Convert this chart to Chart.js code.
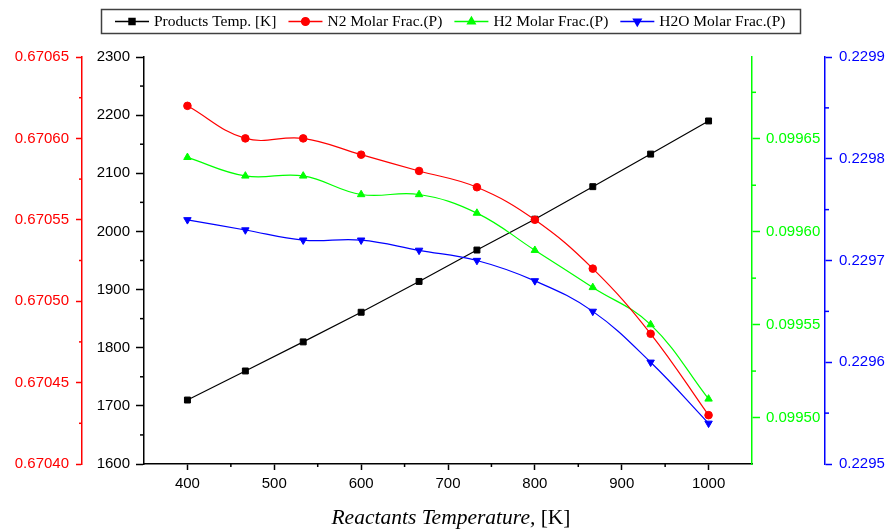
<!DOCTYPE html>
<html>
<head>
<meta charset="utf-8">
<script src="https://cdn.jsdelivr.net/npm/chart.js@4.4.1/dist/chart.umd.min.js"></script>
<style>
  body { margin: 0; background: #fff; }
  #wrap { width: 887px; height: 529px; }
</style>
</head>
<body>
<div id="wrap"><canvas id="chart" width="887" height="529"></canvas></div>
<script>
// reactant inlet temperatures [K]
const reactantTemps = [400, 466.7, 533.3, 600, 666.7, 733.3, 800, 866.7, 933.3, 1000];

// results per case
const productsTemp = [1710, 1760, 1810, 1861, 1914, 1968, 2021, 2077, 2133, 2190];
const n2Frac = [0.67062, 0.67060, 0.67060, 0.67059, 0.67058, 0.67057, 0.67055, 0.67052, 0.67048, 0.67043];
const h2Frac = [0.09964, 0.09963, 0.09963, 0.09962, 0.09962, 0.09961, 0.09959, 0.09957, 0.09955, 0.09951];
const h2oFrac = [0.22974, 0.22973, 0.22972, 0.22972, 0.22971, 0.22970, 0.22968, 0.22965, 0.22960, 0.22954];

const seriesNames = ['Products Temp. [K]', 'N2 Molar Frac.(P)', 'H2 Molar Frac.(P)', 'H2O Molar Frac.(P)'];

// axis ticks (major labelled, minor unlabelled)
const xTicks = [400, 500, 600, 700, 800, 900, 1000];
const xMinor = [450, 550, 650, 750, 850, 950];
const tempTicks = [1600, 1700, 1800, 1900, 2000, 2100, 2200, 2300];
const tempMinor = [1650, 1750, 1850, 1950, 2050, 2150, 2250];
const n2Ticks = [0.67040, 0.67045, 0.67050, 0.67055, 0.67060, 0.67065];
const n2Minor = [0.670425, 0.670475, 0.670525, 0.670575, 0.670625];
const h2Ticks = [0.09950, 0.09955, 0.09960, 0.09965];
const h2Minor = [0.099525, 0.099575, 0.099625, 0.099675];
const h2oTicks = [0.2295, 0.2296, 0.2297, 0.2298, 0.2299];
const h2oMinor = [0.22955, 0.22965, 0.22975, 0.22985];

const RED = '#ff0000', GREEN = '#00ff00', BLUE = '#0000ff', BLACK = '#000000';

function points(ys) {
  return reactantTemps.map((x, i) => ({ x: x, y: ys[i] }));
}

function fixTicks(list) {
  return function (scale) { scale.ticks = list.map(v => ({ value: v })); };
}

function yAxis(pos, color, min, max, ticks, digits, width, tickLen, pad, weight) {
  return {
    type: 'linear',
    position: pos,
    weight: weight,
    min: min,
    max: max,
    afterBuildTicks: fixTicks(ticks),
    afterFit: function (scale) { scale.width = width; },
    border: { display: true, color: color, width: 1.5 },
    grid: { drawOnChartArea: false, drawTicks: true, tickLength: tickLen, tickColor: color, tickWidth: 1.5 },
    ticks: {
      color: color,
      padding: pad,
      font: { family: "'Liberation Sans', Arial, sans-serif", size: 15 },
      callback: v => v.toFixed(digits)
    }
  };
}

const minorTicks = {
  id: 'minorTicks',
  afterDraw(chart) {
    const ctx = chart.ctx;
    const sets = [
      ['x', xMinor, BLACK, 3],
      ['yTemp', tempMinor, BLACK, 4],
      ['yN2', n2Minor, RED, 3],
      ['yH2', h2Minor, GREEN, 4],
      ['yH2O', h2oMinor, BLUE, 4]
    ];
    ctx.save();
    ctx.lineWidth = 1.5;
    sets.forEach(([id, vals, color, len]) => {
      const s = chart.scales[id];
      ctx.strokeStyle = color;
      vals.forEach(v => {
        const p = s.getPixelForValue(v);
        ctx.beginPath();
        if (s.position === 'bottom') {
          ctx.moveTo(p, s.top); ctx.lineTo(p, s.top + len);
        } else if (s.position === 'left') {
          ctx.moveTo(s.right - len, p); ctx.lineTo(s.right, p);
        } else {
          ctx.moveTo(s.left, p); ctx.lineTo(s.left + len, p);
        }
        ctx.stroke();
      });
    });
    ctx.restore();
  }
};

// x-axis title: italic words followed by an upright unit
const xTitle = {
  id: 'xTitle',
  afterDraw(chart) {
    const ctx = chart.ctx;
    const area = chart.chartArea;
    const a = 'Reactants Temperature,';
    const b = ' [K]';
    const italic = "italic 21.5px 'Liberation Serif', 'Times New Roman', serif";
    const upright = "21.5px 'Liberation Serif', 'Times New Roman', serif";
    ctx.save();
    ctx.fillStyle = BLACK;
    ctx.textBaseline = 'alphabetic';
    ctx.font = italic;
    const wa = ctx.measureText(a).width;
    ctx.font = upright;
    const wb = ctx.measureText(b).width;
    const x = (area.left + area.right) / 2 - (wa + wb) / 2 + 3;
    const y = 524;
    ctx.font = italic;
    ctx.fillText(a, x, y);
    ctx.font = upright;
    ctx.fillText(b, x + wa, y);
    ctx.restore();
  }
};

// boxed legend with line + marker samples
const boxLegend = {
  id: 'boxLegend',
  afterDraw(chart) {
    const ctx = chart.ctx;
    ctx.save();
    ctx.strokeStyle = '#404040';
    ctx.lineWidth = 1.5;
    ctx.strokeRect(101.5, 9.5, 699, 24);
    ctx.font = "15.5px 'Liberation Serif', 'Times New Roman', serif";
    ctx.textBaseline = 'middle';
    const cy = 21.5;
    let x = 115;
    chart.data.datasets.forEach(ds => {
      ctx.strokeStyle = ds.borderColor;
      ctx.lineWidth = 1.5;
      ctx.beginPath();
      ctx.moveTo(x, cy); ctx.lineTo(x + 34, cy);
      ctx.stroke();
      Chart.helpers.drawPoint(ctx, {
        pointStyle: ds.pointStyle,
        radius: ds.pointRadius,
        rotation: ds.pointRotation || 0,
        borderWidth: 1
      }, x + 17, cy);
      ctx.fillStyle = ds.borderColor;
      ctx.fill();
      ctx.fillStyle = BLACK;
      ctx.fillText(ds.label, x + 39, cy);
      x += 39 + ctx.measureText(ds.label).width + 12;
    });
    ctx.restore();
  }
};

function series(label, ys, color, axis, style, radius, rotation, tension, order) {
  return {
    label: label,
    data: points(ys),
    yAxisID: axis,
    borderColor: color,
    backgroundColor: color,
    borderWidth: 1.2,
    pointStyle: style,
    pointRadius: radius,
    pointRotation: rotation,
    pointBackgroundColor: color,
    pointBorderColor: color,
    pointBorderWidth: 1,
    tension: tension,
    order: order
  };
}

new Chart(document.getElementById('chart'), {
  type: 'line',
  data: {
    datasets: [
      series(seriesNames[0], productsTemp, BLACK, 'yTemp', 'rect', 4.2, 0, 0, 4),
      series(seriesNames[1], n2Frac, RED, 'yN2', 'circle', 3.8, 0, 0.4, 1),
      series(seriesNames[2], h2Frac, GREEN, 'yH2', 'triangle', 4.3, 0, 0.4, 2),
      series(seriesNames[3], h2oFrac, BLUE, 'yH2O', 'triangle', 4.3, 180, 0.4, 3)
    ]
  },
  options: {
    responsive: false,
    animation: false,
    layout: { padding: { top: 57, left: 0, right: 0, bottom: 0 } },
    plugins: {
      legend: { display: false },
      tooltip: { enabled: false }
    },
    scales: {
      x: {
        type: 'linear',
        position: 'bottom',
        min: 350,
        max: 1050,
        afterBuildTicks: fixTicks(xTicks),
        afterFit: function (scale) { scale.height = 65; },
        border: { display: true, color: BLACK, width: 1.5 },
        grid: { drawOnChartArea: false, drawTicks: true, tickLength: 6, tickColor: BLACK, tickWidth: 1.5 },
        ticks: {
          color: BLACK,
          padding: 5,
          maxRotation: 0,
          font: { family: "'Liberation Sans', Arial, sans-serif", size: 15 },
          callback: v => String(v)
        }
      },
      yTemp: yAxis('left', BLACK, 1600, 2300, tempTicks, 0, 62, 8, 6, 0),
      yN2: yAxis('left', RED, 0.67040, 0.67065, n2Ticks, 5, 82, 6, 7, 1),
      yH2: yAxis('right', GREEN, 0.099475, 0.099694, h2Ticks, 5, 73, 8, 6, 0),
      yH2O: yAxis('right', BLUE, 0.2295, 0.2299, h2oTicks, 4, 62, 7, 7, 1)
    }
  },
  plugins: [minorTicks, xTitle, boxLegend]
});
</script>
</body>
</html>
